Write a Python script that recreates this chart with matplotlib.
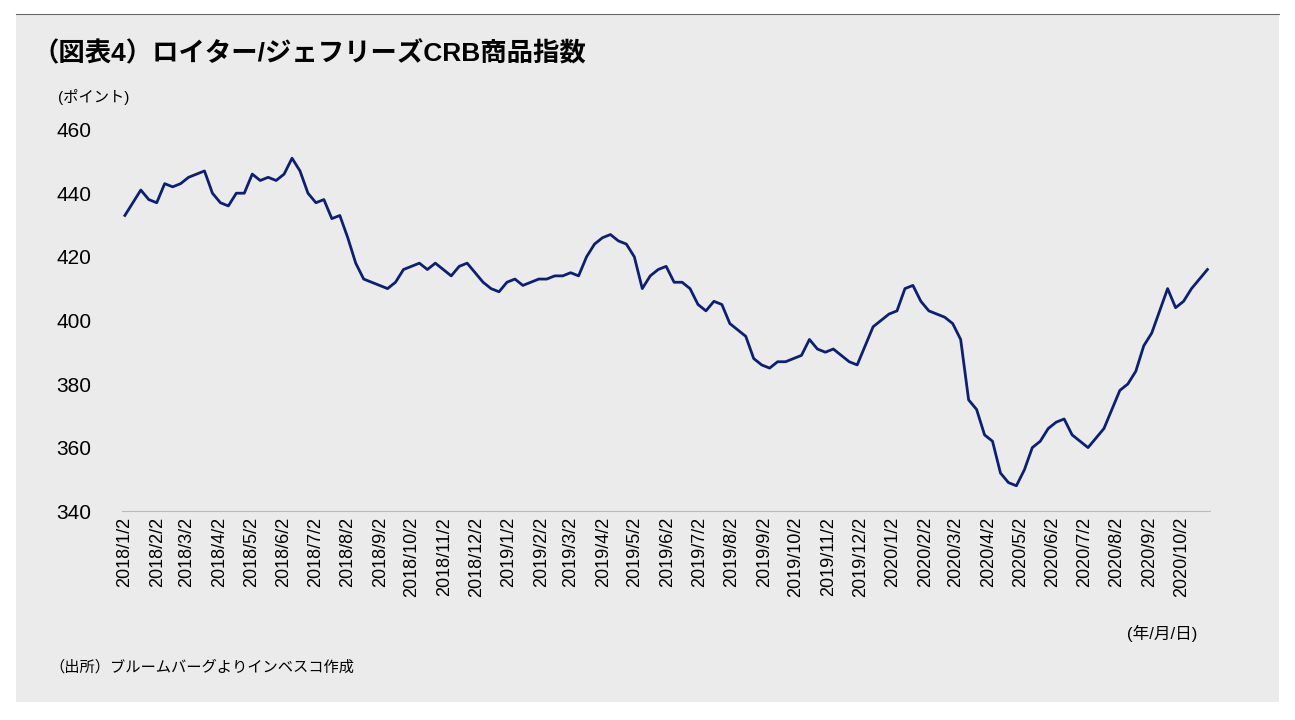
import numpy as np
import pandas as pd
import matplotlib.pyplot as plt

plt.rcParams["font.family"] = ["Liberation Sans", "Noto Sans CJK JP"]

# weekly-ish readings, 2018/1/2 .. 2020/10/27
values = [
    433, 437, 441, 438,
    437, 443, 442,
    443, 445, 446, 447,
    440, 437, 436, 440,
    440, 446, 444, 445,
    444, 446, 451, 447,
    440, 437, 438, 432,
    433, 426, 418, 413,
    412, 411, 410, 412,
    416, 417, 418, 416,
    418, 416, 414, 417,
    418, 415, 412, 410,
    409, 412, 413, 411,
    412, 413, 413, 414,
    414, 415, 414, 420,
    424, 426, 427, 425,
    424, 420, 410, 414,
    416, 417, 412, 412,
    410, 405, 403, 406,
    405, 399, 397, 395,
    388, 386, 385, 387,
    387, 388, 389, 394,
    391, 390, 391, 389,
    387, 386, 392, 398,
    400, 402, 403, 410,
    411, 406, 403, 402,
    401, 399, 394, 375,
    372, 364, 362, 352,
    349, 348, 353, 360,
    362, 366, 368, 369,
    364, 362, 360, 363,
    366, 372, 378, 380,
    384, 392, 396, 403,
    410, 404, 406, 410, 413, 416,
]
start = pd.Timestamp("2018-01-02")
end = pd.Timestamp("2020-10-27")
dates = pd.to_datetime(np.linspace(start.value, end.value, len(values)))

tick_dates = pd.date_range("2018-01-01", "2020-10-01", freq="MS") + pd.Timedelta(days=1)
tick_labels = [f"{d.year}/{d.month}/2" for d in tick_dates]
yticks = [340, 360, 380, 400, 420, 440, 460]

bg = "#ebebeb"
fig = plt.figure(figsize=(12.95, 7.2), dpi=100, facecolor="white")
fig.patches.append(plt.Rectangle((0.012, 0.025), 0.976, 0.955, transform=fig.transFigure,
                                 facecolor=bg, edgecolor="none", zorder=-1))
fig.add_artist(plt.Line2D([0.012, 0.988], [0.98, 0.98], color="#666666", lw=0.8))

ax = fig.add_axes([0.094, 0.29, 0.84, 0.53])
ax.set_facecolor(bg)
ax.plot(dates, values, color="#0d1f73", lw=2)
ax.set_ylim(340, 460)
ax.set_yticks(yticks)
ax.set_xlim(start - pd.Timedelta(days=3), end + pd.Timedelta(days=2))
ax.set_xticks(tick_dates)
ax.set_xticklabels(tick_labels, rotation=90, fontsize=13)
ax.tick_params(axis="y", labelsize=15, length=0, pad=22)
ax.tick_params(axis="x", length=0, pad=4)
for s in ["top", "right", "left"]:
    ax.spines[s].set_visible(False)
ax.spines["bottom"].set_color("#bbbbbb")

fig.text(0.025, 0.915, "（図表4）ロイター/ジェフリーズCRB商品指数", fontsize=19, fontweight="bold")
fig.text(0.045, 0.858, "(ポイント)", fontsize=11)
fig.text(0.87, 0.112, "(年/月/日)", fontsize=12)
fig.text(0.038, 0.068, "（出所）ブルームバーグよりインベスコ作成", fontsize=11)

fig.savefig("out.png", dpi=100, facecolor="white")
